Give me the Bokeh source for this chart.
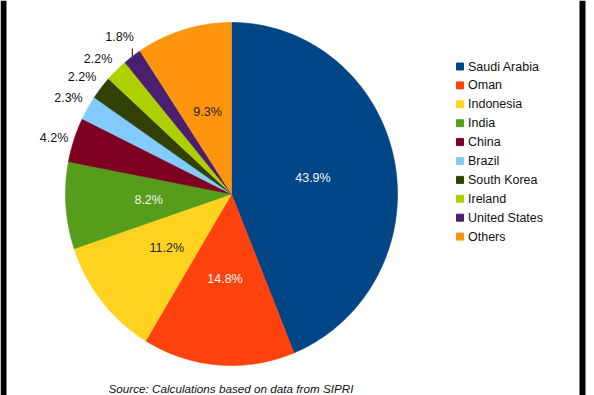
import numpy as np
from bokeh.plotting import figure
from bokeh.models import Range1d, ColumnDataSource
from bokeh.embed import file_html
from bokeh.resources import INLINE
from bokeh.core.properties import value

# ---- data ----
countries = ["Saudi Arabia", "Oman", "Indonesia", "India", "China", "Brazil",
             "South Korea", "Ireland", "United States", "Others"]
shares = [43.9, 14.8, 11.2, 8.2, 4.2, 2.3, 2.2, 2.2, 1.8, 9.3]
source_note = "Source: Calculations based on data from SIPRI"

# ---- styles ----
colors = ["#004586", "#ff420e", "#ffd320", "#579d1c", "#7e0021", "#83caff",
          "#314004", "#aecf00", "#4b1f6f", "#ff950e"]
inside_text_colors = ["#f4f4f4", "#f4f4f4", "#222222", "#f4f4f4", "#000000",
                      "#000000", "#000000", "#000000", "#000000", "#222222"]
label_push = [0, 0, 0, 0, 0, 0, 0, 0, 12, 0]   # leader-line lift for crowded labels
FONT = "Liberation Sans"

W, H = 594, 395


def Y(page_y):
    return H - page_y


p = figure(width=W, height=H, output_backend="svg", toolbar_location=None,
           x_range=Range1d(0, W), y_range=Range1d(0, H),
           x_axis_type=None, y_axis_type=None, min_border=0)
p.outline_line_color = None
p.grid.visible = False
p.background_fill_color = "white"
p.border_fill_color = "white"

cx, cy = 231.0, Y(193.5)
rx, ry = 166.0, 171.5

vals = np.array(shares, dtype=float)
total = vals.sum()
cum = np.concatenate([[0.0], np.cumsum(vals)]) / total

xs, ys = [], []
for i in range(len(vals)):
    n = max(4, int(np.ceil((cum[i + 1] - cum[i]) * 400)))
    t = np.linspace(cum[i], cum[i + 1], n) * 2 * np.pi
    xs.append([cx] + list(cx + rx * np.sin(t)))
    ys.append([cy] + list(cy + ry * np.cos(t)))

p.patches(xs=xs, ys=ys, fill_color=colors, line_color=colors, line_width=0.6)

# ---- labels ----
mid = (cum[:-1] + cum[1:]) / 2 * 2 * np.pi
pct = [f"{v:.1f}%" for v in shares]

in_src = dict(x=[], y=[], t=[], c=[])
out_cr = dict(x=[], y=[], t=[])
out_br = dict(x=[], y=[], t=[])
lead = dict(x0=[], y0=[], x1=[], y1=[])
for i, v in enumerate(shares):
    s, c = np.sin(mid[i]), np.cos(mid[i])
    if v >= 5:
        in_src["x"].append(cx + 0.5 * rx * s)
        in_src["y"].append(cy + 0.5 * ry * c)
        in_src["t"].append(pct[i])
        in_src["c"].append(inside_text_colors[i])
    else:
        ex, ey = cx + rx * s, cy + ry * c
        if label_push[i]:
            lead["x0"].append(ex)
            lead["y0"].append(ey)
            lead["x1"].append(ex)
            lead["y1"].append(ey + label_push[i] - 4)
            out_br["x"].append(ex + 1.5)
            out_br["y"].append(ey + label_push[i])
            out_br["t"].append(pct[i])
        else:
            lx, ly = ex + 6 * s, ey + 6 * c
            if abs(c) < 0.45:
                out_cr["x"].append(lx); out_cr["y"].append(ly); out_cr["t"].append(pct[i])
            else:
                out_br["x"].append(lx); out_br["y"].append(ly); out_br["t"].append(pct[i])

p.text(x="x", y="y", text="t", source=ColumnDataSource(in_src), text_color="c",
       text_align="center", text_baseline="middle", text_font=value(FONT),
       text_font_size="12.5px")
p.text(x="x", y="y", text="t", source=ColumnDataSource(out_cr), text_color="#111111",
       text_align="right", text_baseline="middle", text_font=value(FONT),
       text_font_size="12.5px")
p.text(x="x", y="y", text="t", source=ColumnDataSource(out_br), text_color="#111111",
       text_align="right", text_baseline="bottom", text_font=value(FONT),
       text_font_size="12.5px")
p.segment(x0="x0", y0="y0", x1="x1", y1="y1", source=ColumnDataSource(lead),
          line_color="#111111", line_width=1)

# ---- legend ----
leg_y = [Y(66 + 18.9 * i) for i in range(len(countries))]
p.scatter(x=[459.5] * len(countries), y=leg_y, marker="square", size=7,
          fill_color=colors, line_color=colors)
p.text(x=[467.5] * len(countries), y=leg_y, text=countries, text_color="#111111",
       text_align="left", text_baseline="middle", text_font=value(FONT),
       text_font_size="12.5px")

# ---- source note ----
p.text(x=[108], y=[Y(381)], text=[source_note], text_color="#111111",
       text_align="left", text_baseline="top", text_font=value(FONT),
       text_font_style="italic", text_font_size="11.7px")

# ---- frame bars ----
p.quad(left=[0, 579], right=[6, 585], bottom=[0, 0], top=[H, H],
       fill_color="black", line_color=None)

open("out.html", "w").write(file_html(p, INLINE))
